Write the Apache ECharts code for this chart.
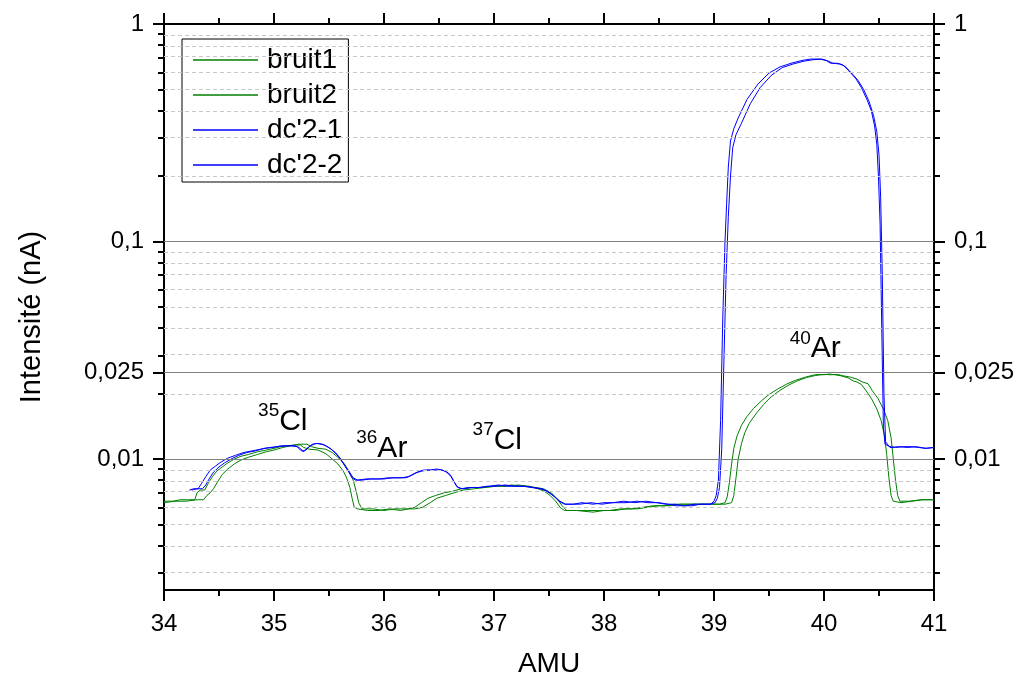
<!DOCTYPE html>
<html>
<head>
<meta charset="utf-8">
<script src="https://cdn.jsdelivr.net/npm/echarts@6/dist/echarts.min.js"></script>
<style>html,body{margin:0;padding:0;background:#fff;}#c{width:1019px;height:683px;}</style>
</head>
<body>
<div id="c"></div>
<script>
// ---- data ----
const seriesNames = ['bruit1', 'bruit2', "dc'2-1", "dc'2-2"];
const bruit1 = [[34.00,0.0064],[34.08,0.0064],[34.15,0.0065],[34.22,0.0065],[34.28,0.0065],[34.30,0.0070],[34.33,0.0072],[34.37,0.0072],[34.40,0.0077],[34.44,0.0083],[34.48,0.0088],[34.53,0.0092],[34.58,0.0096],[34.64,0.0100],[34.70,0.0103],[34.77,0.0105],[34.85,0.0108],[34.93,0.0110],[35.00,0.0112],[35.06,0.0114],[35.12,0.0115],[35.18,0.0116],[35.24,0.0116],[35.27,0.0113],[35.32,0.0111],[35.40,0.0110],[35.47,0.0106],[35.53,0.0100],[35.58,0.0095],[35.63,0.0088],[35.66,0.0082],[35.69,0.0074],[35.71,0.0066],[35.73,0.0060],[35.76,0.0059],[35.85,0.0058],[35.95,0.0058],[36.05,0.0059],[36.15,0.0058],[36.22,0.0059],[36.28,0.0060],[36.34,0.0063],[36.40,0.0066],[36.47,0.0068],[36.55,0.0070],[36.62,0.0071],[36.70,0.0073],[36.80,0.0074],[36.90,0.0074],[37.00,0.0075],[37.08,0.0075],[37.16,0.0076],[37.24,0.0075],[37.32,0.0075],[37.40,0.0073],[37.46,0.0071],[37.51,0.0068],[37.56,0.0064],[37.60,0.0060],[37.64,0.0058],[37.75,0.0058],[37.85,0.0058],[37.95,0.0058],[38.05,0.0058],[38.15,0.0059],[38.25,0.0059],[38.35,0.0060],[38.45,0.0061],[38.55,0.0061],[38.65,0.0062],[38.75,0.0062],[38.85,0.0062],[38.95,0.0062],[39.05,0.0062],[39.10,0.0063],[39.12,0.0067],[39.14,0.0078],[39.16,0.0095],[39.18,0.0112],[39.21,0.0128],[39.25,0.0143],[39.30,0.0157],[39.36,0.0171],[39.43,0.0185],[39.50,0.0198],[39.58,0.0210],[39.66,0.0221],[39.74,0.0230],[39.82,0.0237],[39.90,0.0243],[39.95,0.0245],[40.00,0.0244],[40.05,0.0246],[40.10,0.0244],[40.16,0.0241],[40.22,0.0236],[40.27,0.0228],[40.30,0.0226],[40.34,0.0220],[40.38,0.0207],[40.43,0.0190],[40.48,0.0170],[40.52,0.0150],[40.55,0.0128],[40.57,0.0105],[40.59,0.0082],[40.61,0.0068],[40.63,0.0064],[40.70,0.0063],[40.80,0.0064],[40.90,0.0065],[41.00,0.0065]];
const bruit2 = [[34.00,0.0063],[34.10,0.0064],[34.20,0.0064],[34.30,0.0065],[34.36,0.0065],[34.39,0.0068],[34.42,0.0070],[34.45,0.0073],[34.49,0.0079],[34.53,0.0085],[34.58,0.0090],[34.64,0.0095],[34.70,0.0099],[34.77,0.0102],[34.85,0.0105],[34.93,0.0108],[35.00,0.0110],[35.08,0.0113],[35.15,0.0115],[35.22,0.0117],[35.30,0.0117],[35.34,0.0114],[35.40,0.0112],[35.47,0.0111],[35.53,0.0107],[35.59,0.0101],[35.64,0.0095],[35.68,0.0088],[35.72,0.0080],[35.75,0.0070],[35.77,0.0063],[35.80,0.0059],[35.90,0.0059],[36.00,0.0058],[36.10,0.0059],[36.20,0.0059],[36.28,0.0059],[36.35,0.0060],[36.42,0.0063],[36.48,0.0066],[36.56,0.0068],[36.64,0.0070],[36.72,0.0072],[36.82,0.0073],[36.92,0.0074],[37.02,0.0075],[37.12,0.0075],[37.22,0.0076],[37.30,0.0075],[37.38,0.0074],[37.45,0.0073],[37.52,0.0070],[37.57,0.0066],[37.62,0.0061],[37.66,0.0058],[37.75,0.0058],[37.90,0.0057],[38.00,0.0058],[38.10,0.0058],[38.20,0.0059],[38.30,0.0059],[38.40,0.0060],[38.50,0.0061],[38.60,0.0061],[38.70,0.0062],[38.80,0.0062],[38.90,0.0062],[39.00,0.0062],[39.10,0.0062],[39.16,0.0063],[39.18,0.0068],[39.20,0.0082],[39.22,0.0100],[39.25,0.0118],[39.28,0.0132],[39.32,0.0146],[39.38,0.0161],[39.45,0.0178],[39.52,0.0193],[39.60,0.0207],[39.68,0.0219],[39.76,0.0229],[39.84,0.0237],[39.92,0.0242],[40.00,0.0245],[40.06,0.0244],[40.12,0.0245],[40.18,0.0241],[40.24,0.0238],[40.30,0.0233],[40.35,0.0226],[40.40,0.0222],[40.44,0.0206],[40.49,0.0190],[40.54,0.0170],[40.58,0.0150],[40.61,0.0125],[40.63,0.0100],[40.65,0.0080],[40.67,0.0068],[40.69,0.0064],[40.78,0.0064],[40.88,0.0065],[41.00,0.0065]];
const dc21 = [[34.23,0.0072],[34.27,0.0073],[34.31,0.0073],[34.34,0.0077],[34.38,0.0083],[34.42,0.0089],[34.47,0.0093],[34.52,0.0097],[34.58,0.0101],[34.65,0.0104],[34.72,0.0107],[34.80,0.0109],[34.88,0.0111],[34.96,0.0113],[35.04,0.0114],[35.10,0.0115],[35.16,0.0115],[35.21,0.0114],[35.24,0.0110],[35.27,0.0108],[35.30,0.0112],[35.35,0.0117],[35.40,0.0118],[35.46,0.0116],[35.52,0.0111],[35.57,0.0105],[35.61,0.0099],[35.65,0.0092],[35.68,0.0087],[35.71,0.0082],[35.74,0.0080],[35.80,0.0080],[35.88,0.0081],[35.96,0.0081],[36.04,0.0082],[36.12,0.0082],[36.20,0.0082],[36.25,0.0084],[36.30,0.0087],[36.36,0.0089],[36.42,0.0089],[36.48,0.0090],[36.53,0.0089],[36.57,0.0087],[36.61,0.0083],[36.64,0.0078],[36.67,0.0074],[36.72,0.0073],[36.80,0.0074],[36.88,0.0074],[36.96,0.0075],[37.04,0.0076],[37.12,0.0075],[37.20,0.0075],[37.28,0.0075],[37.36,0.0074],[37.44,0.0073],[37.50,0.0070],[37.55,0.0067],[37.60,0.0064],[37.65,0.0062],[37.72,0.0062],[37.80,0.0063],[37.90,0.0062],[38.00,0.0063],[38.10,0.0063],[38.20,0.0063],[38.30,0.0064],[38.40,0.0063],[38.50,0.0063],[38.58,0.0062],[38.66,0.0061],[38.74,0.0061],[38.82,0.0062],[38.90,0.0062],[38.97,0.0062],[39.00,0.0064],[39.02,0.0068],[39.04,0.0080],[39.06,0.0150],[39.08,0.0450],[39.10,0.1000],[39.115,0.1500],[39.13,0.2200],[39.15,0.2900],[39.18,0.3300],[39.22,0.3700],[39.30,0.4500],[39.40,0.5300],[39.50,0.5950],[39.60,0.6350],[39.70,0.6600],[39.80,0.6800],[39.88,0.6900],[39.96,0.6900],[40.02,0.6800],[40.06,0.6600],[40.12,0.6600],[40.17,0.6500],[40.21,0.6200],[40.25,0.5900],[40.29,0.5600],[40.34,0.5100],[40.39,0.4500],[40.43,0.4000],[40.46,0.3400],[40.48,0.2800],[40.495,0.2000],[40.51,0.1200],[40.525,0.0400],[40.54,0.0140],[40.555,0.0117],[40.60,0.0114],[40.65,0.0113],[40.72,0.0114],[40.80,0.0114],[40.86,0.0113],[40.93,0.0112],[41.00,0.0113]];
const dc22 = [[34.25,0.0072],[34.30,0.0073],[34.35,0.0073],[34.38,0.0076],[34.41,0.0081],[34.45,0.0087],[34.50,0.0092],[34.55,0.0096],[34.61,0.0100],[34.68,0.0104],[34.75,0.0107],[34.83,0.0109],[34.91,0.0112],[34.99,0.0113],[35.06,0.0115],[35.13,0.0115],[35.19,0.0115],[35.23,0.0113],[35.26,0.0109],[35.29,0.0110],[35.33,0.0115],[35.38,0.0118],[35.44,0.0117],[35.50,0.0113],[35.56,0.0107],[35.60,0.0101],[35.64,0.0094],[35.68,0.0088],[35.72,0.0082],[35.76,0.0080],[35.84,0.0081],[35.92,0.0081],[36.00,0.0081],[36.08,0.0082],[36.16,0.0082],[36.22,0.0083],[36.28,0.0086],[36.34,0.0088],[36.40,0.0089],[36.46,0.0089],[36.52,0.0089],[36.56,0.0088],[36.60,0.0085],[36.63,0.0080],[36.66,0.0075],[36.70,0.0073],[36.78,0.0074],[36.86,0.0074],[36.94,0.0075],[37.02,0.0075],[37.10,0.0076],[37.18,0.0075],[37.26,0.0075],[37.34,0.0074],[37.42,0.0073],[37.49,0.0071],[37.54,0.0068],[37.59,0.0064],[37.64,0.0062],[37.70,0.0062],[37.78,0.0062],[37.88,0.0063],[37.98,0.0062],[38.08,0.0063],[38.18,0.0064],[38.28,0.0063],[38.38,0.0064],[38.48,0.0063],[38.56,0.0062],[38.64,0.0062],[38.72,0.0061],[38.80,0.0061],[38.88,0.0062],[38.96,0.0062],[39.01,0.0063],[39.03,0.0066],[39.05,0.0074],[39.07,0.0110],[39.09,0.0280],[39.11,0.0700],[39.13,0.1300],[39.15,0.2000],[39.17,0.2700],[39.20,0.3100],[39.25,0.3500],[39.33,0.4300],[39.42,0.5100],[39.52,0.5800],[39.62,0.6300],[39.72,0.6550],[39.82,0.6750],[39.90,0.6850],[39.98,0.6900],[40.04,0.6750],[40.08,0.6600],[40.14,0.6550],[40.19,0.6400],[40.23,0.6100],[40.27,0.5800],[40.31,0.5500],[40.36,0.5000],[40.41,0.4400],[40.45,0.3800],[40.48,0.3200],[40.50,0.2500],[40.515,0.1600],[40.53,0.0700],[40.545,0.0200],[40.56,0.0120],[40.60,0.0113],[40.68,0.0114],[40.76,0.0113],[40.84,0.0114],[40.92,0.0112],[41.00,0.0113]];

const yTickValues = [0.01, 0.025, 0.1, 1];
const yTickLabels = ['0,01', '0,025', '0,1', '1'];
const yMinorValues = [0.003,0.004,0.005,0.006,0.007,0.008,0.009,0.02,0.03,0.04,0.05,0.06,0.07,0.08,0.09,0.2,0.3,0.4,0.5,0.6,0.7,0.8,0.9];
const annIsotopes = ['35', '36', '37', '40'];
const annElements = ['Cl', 'Ar', 'Cl', 'Ar'];

// ---- chart ----
const FONT = '"Liberation Sans", Arial, Helvetica, sans-serif';
const YMIN = 0.0025, YMAX = 1;
const LMIN = Math.log10(YMIN), LMAX = Math.log10(YMAX);
const majorLog = yTickValues.map(v => Math.log10(v));
const minorLog = yMinorValues.map(v => Math.log10(v));
const fmtY = v => { const i = yTickValues.findIndex(t => Math.abs(Math.log10(t) - v) < 1e-6); return i >= 0 ? yTickLabels[i] : ''; };
const axLine = { color: '#000', width: 2 };

function xAx(pos, interval, len, main) {
  return {
    type: 'value', position: pos, min: 34, max: 41, interval: interval,
    axisLine: { show: main, onZero: false, lineStyle: axLine },
    axisTick: { show: true, inside: false, length: len, lineStyle: axLine },
    axisLabel: { show: main && pos === 'bottom', fontSize: 24, color: '#000', margin: 22, fontFamily: FONT },
    splitLine: { show: false },
    name: (main && pos === 'bottom') ? 'AMU' : '', nameLocation: 'middle', nameGap: 60,
    nameTextStyle: { fontSize: 28, color: '#000', fontFamily: FONT }
  };
}
function yAx(pos, vals, len, main) {
  return {
    type: 'value', position: pos, min: LMIN, max: LMAX,
    axisLine: { show: main, onZero: false, lineStyle: axLine },
    axisTick: { show: true, inside: false, length: len, lineStyle: axLine, customValues: vals },
    axisLabel: { show: main, customValues: vals, formatter: fmtY, fontSize: 24, color: '#000', margin: 20, fontFamily: FONT },
    splitLine: { show: false },
    name: (main && pos === 'left') ? 'Intensité (nA)' : '', nameLocation: 'middle', nameGap: 118,
    nameTextStyle: { fontSize: 29, color: '#000', fontFamily: FONT, padding: [0, 20, 0, 0] }
  };
}

const annPos = [[35.08, 0.0149], [35.98, 0.0112], [37.03, 0.0122], [39.92, 0.0320]];
const annData = annIsotopes.map((iso, i) => ({
  coord: annPos[i],
  label: { formatter: '{s|' + iso + '}{e|' + annElements[i] + '}' }
}));

const colors = ['#008000', '#008000', '#0000ff', '#0000ff'];
const datas = [bruit1, bruit2, dc21, dc22];

const series = datas.map((d, i) => ({
  type: 'line', name: seriesNames[i], data: d, xAxisIndex: 0, yAxisIndex: 0, z: 3,
  symbol: 'none', showSymbol: false, smooth: false,
  lineStyle: { color: colors[i], width: 1 }, itemStyle: { color: colors[i] },
  emphasis: { disabled: true }
})).concat([
  {
    type: 'line', name: '_major', data: [], xAxisIndex: 0, yAxisIndex: 1, z: 1,
    markLine: { silent: true, symbol: ['none', 'none'], label: { show: false }, emphasis: { disabled: true }, animation: false,
      lineStyle: { color: '#808080', width: 1, type: 'solid' },
      data: majorLog.filter(v => v < LMAX - 1e-9).map(v => ({ yAxis: v })) }
  },
  {
    type: 'line', name: '_minor', data: [], xAxisIndex: 0, yAxisIndex: 1, z: 1,
    markLine: { silent: true, symbol: ['none', 'none'], label: { show: false }, emphasis: { disabled: true }, animation: false,
      lineStyle: { color: '#c8c8c8', width: 1, type: [4, 3] },
      data: minorLog.map(v => ({ yAxis: v })) }
  },
  {
    type: 'line', name: '_ann', data: [], xAxisIndex: 0, yAxisIndex: 0, z: 4,
    markPoint: {
      silent: true, symbol: 'circle', symbolSize: 1, itemStyle: { color: 'rgba(0,0,0,0)' }, animation: false,
      label: {
        show: true, position: 'inside', color: '#000',
        rich: {
          s: { fontSize: 19, verticalAlign: 'top', color: '#000', fontFamily: FONT },
          e: { fontSize: 30, lineHeight: 40, color: '#000', fontFamily: FONT }
        }
      },
      data: annData
    }
  }
]);

const chart = echarts.init(document.getElementById('c'), null, { renderer: 'canvas' });
chart.setOption({
  animation: false,
  backgroundColor: '#fff',
  grid: { left: 164, right: 85, top: 24, bottom: 89, containLabel: false },
  legend: {
    data: seriesNames.map((n, i) => ({ name: n, icon: 'rect', itemStyle: { color: colors[i] } })),
    orient: 'vertical', left: 182, top: 39,
    padding: [7, 6, 3, 11], itemGap: 7, itemWidth: 65, itemHeight: 1.4,
    textStyle: { fontSize: 28, color: '#000', fontFamily: FONT, padding: [0, 0, 0, 4] },
    borderColor: '#000', borderWidth: 1, backgroundColor: '#fff', borderRadius: 0,
    selectedMode: false
  },
  xAxis: [xAx('bottom', 1, 11, true), xAx('bottom', 0.5, 6, false), xAx('top', 1, 11, true), xAx('top', 0.5, 6, false)],
  yAxis: [
    { type: 'log', logBase: 10, min: YMIN, max: YMAX, show: false },
    yAx('left', majorLog, 11, true), yAx('left', minorLog, 6, false),
    yAx('right', majorLog, 11, true), yAx('right', minorLog, 6, false)
  ],
  series: series
});
</script>
</body>
</html>
